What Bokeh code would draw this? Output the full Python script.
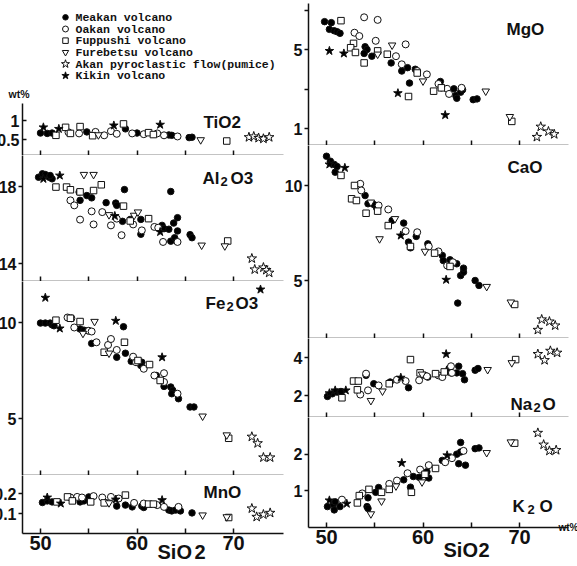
from bokeh.core.properties import value
from bokeh.embed import file_html
from bokeh.layouts import column, row
from bokeh.models import ColumnDataSource, FactorRange, FixedTicker, Label, LinearAxis, Range1d, Title
from bokeh.plotting import figure
from bokeh.resources import INLINE

# ---------------------------------------------------------------- series
SERIES = ["meakan", "oakan", "fuppushi", "furebetsu", "akan", "kikin"]
SERIES_NAMES = [
    "Meakan volcano",
    "Oakan volcano",
    "Fuppushi volcano",
    "Furebetsu volcano",
    "Akan pyroclastic flow(pumice)",
    "Kikin volcano",
]

# ---------------------------------------------------------------- data: (SiO2 wt%, oxide wt%)
TIO2_MEAKAN = [(50.0, 0.67), (50.7, 0.66), (51.2, 0.67), (54.8, 0.70), (58.8, 0.78), (60.0, 0.67),
               (63.3, 0.62), (63.6, 0.61), (65.4, 0.55), (65.7, 0.56)]
TIO2_OAKAN = [(52.9, 0.69), (54.0, 0.66), (55.7, 0.70), (56.6, 0.61), (57.3, 0.72), (57.9, 0.65),
              (59.5, 0.66), (60.7, 0.64), (62.1, 0.66), (62.8, 0.61), (64.2, 0.58)]
TIO2_FUPPUSHI = [(51.6, 0.61), (52.6, 0.82), (53.1, 0.66), (54.1, 0.84), (55.4, 0.60), (58.6, 0.91),
                 (61.2, 0.68), (61.7, 0.63), (69.3, 0.46)]
TIO2_FUREBETSU = [(56.0, 0.62), (66.6, 0.49)]
TIO2_AKAN = [(71.6, 0.56), (72.1, 0.58), (72.6, 0.54), (73.1, 0.52), (73.7, 0.56)]
TIO2_KIKIN = [(50.3, 0.82), (51.9, 0.78), (57.6, 0.87), (62.4, 0.89)]

AL2O3_MEAKAN = [(49.8, 18.48), (50.2, 18.66), (50.5, 18.62), (50.9, 18.48), (51.2, 18.40), (51.0, 18.57),
                (54.0, 17.71), (54.1, 17.28), (54.8, 17.53), (55.3, 17.41), (56.8, 17.16), (57.8, 17.14),
                (57.9, 17.02), (58.7, 17.84), (58.5, 16.19), (59.3, 16.29), (60.4, 16.29), (60.4, 15.52),
                (62.6, 15.98), (62.8, 15.81), (63.3, 15.78), (63.5, 17.74), (63.5, 15.16), (63.8, 16.10),
                (63.9, 15.34), (64.2, 16.38), (64.2, 15.69), (65.5, 15.50), (65.7, 15.34)]
AL2O3_OAKAN = [(53.1, 17.28), (53.5, 17.02), (54.1, 16.28), (55.3, 16.71), (55.5, 16.03), (56.4, 16.67),
               (57.3, 15.98), (57.9, 16.33), (58.4, 15.47), (59.6, 16.03), (60.5, 15.72), (61.8, 15.90),
               (62.2, 15.86), (62.7, 15.12), (64.2, 15.12)]
AL2O3_FUPPUSHI = [(51.6, 17.97), (52.7, 17.97), (53.1, 17.83), (54.1, 17.72), (55.5, 17.79), (56.3, 18.09),
                  (58.6, 16.98), (59.3, 16.21), (61.2, 16.33), (69.4, 15.17)]
AL2O3_FUREBETSU = [(54.5, 18.62), (55.5, 18.62), (57.1, 16.53), (59.7, 16.50), (60.1, 16.67), (66.7, 14.95),
                   (69.1, 14.91)]
AL2O3_AKAN = [(71.9, 14.26), (72.2, 13.69), (73.1, 13.79), (73.4, 13.66), (73.7, 13.52)]
AL2O3_KIKIN = [(50.3, 18.40), (52.0, 18.57), (57.7, 16.47), (62.4, 15.64)]

FE2O3_MEAKAN = [(50.0, 9.97), (50.5, 9.97), (51.0, 9.97), (51.2, 9.88), (51.4, 9.83), (54.1, 9.66),
                (54.5, 9.60), (54.9, 9.57), (55.3, 8.91), (57.9, 8.19), (58.8, 8.40), (58.6, 9.78),
                (59.4, 7.98), (60.5, 7.93), (60.4, 7.76), (62.0, 7.24), (62.8, 6.67), (63.5, 6.64),
                (63.7, 6.47), (63.6, 6.29), (64.3, 6.03), (65.5, 5.60), (65.9, 5.60)]
FE2O3_OAKAN = [(52.8, 10.26), (53.2, 10.22), (53.5, 9.74), (55.0, 9.57), (55.3, 9.53), (55.8, 8.97),
               (57.0, 8.83), (57.3, 9.14), (57.9, 8.57), (59.6, 8.22), (59.9, 7.93), (60.7, 7.59),
               (61.8, 7.24), (62.8, 7.36), (62.8, 6.90), (64.2, 6.29)]
FE2O3_FUPPUSHI = [(51.6, 10.12), (53.1, 10.22), (54.1, 10.05), (56.6, 8.45), (58.7, 8.97), (60.1, 8.02),
                  (61.3, 7.81), (62.4, 6.98), (69.5, 3.97)]
FE2O3_FUREBETSU = [(55.6, 10.05), (54.4, 9.43), (57.1, 8.40), (66.8, 5.12), (69.3, 4.14)]
FE2O3_AKAN = [(71.9, 4.05), (72.5, 3.71), (73.1, 2.97), (73.8, 2.97)]
FE2O3_KIKIN = [(50.5, 11.29), (52.0, 9.69), (57.8, 10.09), (62.6, 8.19), (72.8, 11.72)]

MNO_MEAKAN = [(50.2, 0.155), (50.7, 0.163), (51.2, 0.158), (54.1, 0.158), (54.5, 0.163), (55.0, 0.183),
              (57.9, 0.137), (58.8, 0.142), (59.5, 0.133), (60.5, 0.137), (60.7, 0.130), (63.3, 0.117),
              (63.6, 0.113), (64.0, 0.117), (64.5, 0.113), (65.7, 0.103)]
MNO_OAKAN = [(53.1, 0.180), (53.8, 0.183), (54.3, 0.180), (55.5, 0.187), (56.4, 0.180), (57.3, 0.183),
             (58.1, 0.175), (59.7, 0.153), (60.7, 0.150), (62.1, 0.142), (62.8, 0.133), (64.3, 0.133)]
MNO_FUPPUSHI = [(51.7, 0.158), (52.8, 0.183), (53.3, 0.163), (55.2, 0.158), (56.6, 0.153), (58.8, 0.192),
                (61.2, 0.147), (61.7, 0.147), (69.5, 0.080)]
MNO_FUREBETSU = [(57.1, 0.153), (66.8, 0.092), (69.3, 0.083)]
MNO_AKAN = [(71.9, 0.125), (72.4, 0.083), (73.1, 0.095), (73.8, 0.103)]
MNO_KIKIN = [(50.7, 0.180), (52.1, 0.150), (57.8, 0.170), (62.6, 0.167)]

MGO_MEAKAN = [(49.8, 6.41), (50.5, 6.36), (50.3, 6.02), (50.8, 5.95), (51.1, 5.90), (51.4, 5.82),
              (54.0, 5.14), (54.2, 5.00), (53.9, 4.80), (54.7, 4.66), (56.7, 4.32), (57.8, 3.91),
              (58.4, 4.08), (58.6, 3.30), (59.2, 4.00), (61.8, 3.38), (61.9, 3.06), (63.2, 3.01),
              (63.4, 2.67), (63.5, 2.53), (63.9, 2.84), (64.1, 2.96), (65.2, 2.46), (65.6, 2.50)]
MGO_OAKAN = [(53.9, 6.63), (55.3, 6.50), (52.9, 5.85), (53.4, 5.68), (55.1, 5.44), (57.2, 4.66),
             (58.2, 5.26), (57.8, 4.25), (59.4, 3.91), (60.4, 3.74), (61.6, 3.26), (62.5, 3.01),
             (62.7, 2.75), (64.0, 3.06)]
MGO_FUPPUSHI = [(51.5, 6.46), (52.8, 5.31), (52.5, 5.09), (53.0, 4.85), (53.9, 4.32), (55.3, 4.93),
                (56.3, 4.76), (59.4, 3.81), (61.1, 2.89), (61.9, 3.06), (58.5, 2.62), (69.2, 1.36)]
MGO_FUREBETSU = [(56.8, 5.22), (55.3, 4.76), (60.0, 3.40), (66.5, 2.89), (69.0, 1.60)]
MGO_AKAN = [(71.8, 0.57), (72.2, 1.09), (73.0, 0.85), (73.6, 0.71)]
MGO_KIKIN = [(50.3, 4.93), (51.8, 4.80), (57.4, 2.79), (62.3, 1.68)]

CAO_MEAKAN = [(50.0, 11.54), (50.4, 11.28), (50.8, 11.11), (51.1, 11.00), (50.9, 10.70), (54.0, 9.47),
              (54.3, 9.04), (54.9, 9.00), (55.2, 8.82), (56.8, 8.16), (58.0, 8.02), (58.5, 7.02),
              (58.7, 6.72), (59.3, 7.32), (60.5, 6.93), (62.0, 6.32), (62.1, 6.05), (62.8, 6.09),
              (63.5, 5.88), (63.6, 3.81), (63.9, 5.26), (64.2, 5.44), (64.2, 5.65), (65.4, 5.00),
              (65.8, 4.74)]
CAO_OAKAN = [(53.5, 10.09), (53.6, 9.74), (55.4, 8.95), (56.4, 8.74), (58.2, 7.60), (59.4, 7.54),
             (60.6, 6.79), (61.6, 6.53), (62.5, 5.79), (63.1, 5.96)]
CAO_FUPPUSHI = [(51.5, 10.53), (52.9, 10.00), (52.6, 9.30), (53.1, 9.21), (54.1, 8.54), (55.3, 8.65),
                (56.4, 7.89), (58.7, 6.79), (61.2, 6.44), (62.8, 5.74), (69.5, 3.74)]
CAO_FUREBETSU = [(54.6, 9.12), (55.5, 7.19), (57.1, 8.25), (60.2, 6.53), (66.6, 4.68), (69.1, 3.86)]
CAO_AKAN = [(71.9, 2.40), (72.3, 2.95), (73.1, 2.84), (73.7, 2.63)]
CAO_KIKIN = [(50.3, 11.11), (51.9, 10.93), (57.7, 7.37), (62.4, 5.04)]

NA2O_MEAKAN = [(50.1, 1.95), (50.6, 2.09), (51.1, 2.18), (51.5, 2.21), (54.1, 3.06), (54.9, 2.62),
               (56.6, 2.71), (58.5, 2.41), (60.2, 3.06), (60.5, 2.97), (62.7, 3.42), (62.9, 3.19),
               (63.5, 3.19), (63.7, 3.54), (64.1, 3.15), (64.3, 2.83), (65.4, 3.33), (65.7, 3.42)]
NA2O_OAKAN = [(53.5, 2.05), (54.1, 3.15), (54.3, 2.27), (55.4, 2.53), (57.3, 2.83), (58.2, 2.76),
              (59.6, 2.80), (60.4, 3.01), (61.6, 3.06), (62.0, 2.97), (62.9, 3.54), (63.0, 3.19)]
NA2O_FUPPUSHI = [(51.6, 1.88), (52.8, 2.76), (53.3, 2.76), (53.2, 2.30), (56.5, 2.62), (58.7, 3.89),
                 (59.7, 3.19), (61.3, 3.15), (62.2, 3.24), (69.6, 3.89)]
NA2O_FUREBETSU = [(54.6, 1.73), (55.8, 2.23), (59.9, 3.12), (66.7, 3.36), (69.2, 3.72)]
NA2O_AKAN = [(71.9, 4.18), (72.6, 3.86), (73.2, 4.35), (73.9, 4.25)]
NA2O_KIKIN = [(50.3, 2.12), (50.9, 2.27), (52.0, 2.27), (57.7, 2.94), (62.4, 4.18)]

K2O_MEAKAN = [(50.1, 0.57), (50.7, 0.63), (50.8, 0.48), (50.9, 0.70), (51.4, 0.57), (54.3, 0.81),
              (54.2, 0.57), (54.3, 0.52), (55.4, 1.09), (55.1, 0.96), (58.0, 1.30), (58.7, 1.10),
              (59.0, 1.39), (59.6, 1.37), (60.4, 1.52), (60.6, 1.35), (62.0, 1.83), (63.5, 2.00),
              (63.9, 2.06), (63.9, 2.32), (63.7, 1.74), (64.4, 1.70), (65.4, 2.15), (65.8, 2.17)]
K2O_OAKAN = [(51.6, 0.76), (53.7, 0.93), (56.5, 1.19), (57.3, 1.28), (58.4, 1.48), (59.7, 1.58),
             (60.6, 1.70), (62.3, 1.78), (63.0, 1.89), (64.2, 2.09)]
K2O_FUPPUSHI = [(53.2, 0.67), (53.4, 0.87), (54.4, 1.04), (55.7, 0.96), (56.5, 1.04), (58.8, 0.96),
                (60.2, 1.45), (61.3, 1.61), (69.5, 2.30)]
K2O_FUREBETSU = [(54.6, 0.37), (55.7, 0.72), (57.2, 1.13), (59.9, 1.24), (66.6, 2.04), (69.1, 2.33)]
K2O_AKAN = [(71.9, 2.58), (72.5, 2.26), (73.1, 2.09), (73.8, 2.11)]
K2O_KIKIN = [(50.3, 0.74), (52.1, 0.65), (57.8, 1.76), (62.5, 1.97)]

TIO2 = dict(meakan=TIO2_MEAKAN, oakan=TIO2_OAKAN, fuppushi=TIO2_FUPPUSHI,
            furebetsu=TIO2_FUREBETSU, akan=TIO2_AKAN, kikin=TIO2_KIKIN)
AL2O3 = dict(meakan=AL2O3_MEAKAN, oakan=AL2O3_OAKAN, fuppushi=AL2O3_FUPPUSHI,
             furebetsu=AL2O3_FUREBETSU, akan=AL2O3_AKAN, kikin=AL2O3_KIKIN)
FE2O3 = dict(meakan=FE2O3_MEAKAN, oakan=FE2O3_OAKAN, fuppushi=FE2O3_FUPPUSHI,
             furebetsu=FE2O3_FUREBETSU, akan=FE2O3_AKAN, kikin=FE2O3_KIKIN)
MNO = dict(meakan=MNO_MEAKAN, oakan=MNO_OAKAN, fuppushi=MNO_FUPPUSHI,
           furebetsu=MNO_FUREBETSU, akan=MNO_AKAN, kikin=MNO_KIKIN)
MGO = dict(meakan=MGO_MEAKAN, oakan=MGO_OAKAN, fuppushi=MGO_FUPPUSHI,
           furebetsu=MGO_FUREBETSU, akan=MGO_AKAN, kikin=MGO_KIKIN)
CAO = dict(meakan=CAO_MEAKAN, oakan=CAO_OAKAN, fuppushi=CAO_FUPPUSHI,
           furebetsu=CAO_FUREBETSU, akan=CAO_AKAN, kikin=CAO_KIKIN)
NA2O = dict(meakan=NA2O_MEAKAN, oakan=NA2O_OAKAN, fuppushi=NA2O_FUPPUSHI,
            furebetsu=NA2O_FUREBETSU, akan=NA2O_AKAN, kikin=NA2O_KIKIN)
K2O = dict(meakan=K2O_MEAKAN, oakan=K2O_OAKAN, fuppushi=K2O_FUPPUSHI,
           furebetsu=K2O_FUREBETSU, akan=K2O_AKAN, kikin=K2O_KIKIN)

# ---------------------------------------------------------------- styling
STYLE = {
    "meakan": dict(marker="circle", fill="black", size=6.5),
    "oakan": dict(marker="circle", fill="white", size=7.0),
    "fuppushi": dict(marker="square", fill="white", size=6.5),
    "furebetsu": dict(marker="inverted_triangle", fill="white", size=7.5),
    "akan": dict(marker="star", fill="white", size=10.0),
    "kikin": dict(marker="star", fill="black", size=9.0),
}
FONT = "Liberation Sans"
INK = "#111111"
NAME_PX = 17   # oxide names
SUB_PX = 13    # their subscripts

# column geometry in page pixels: origin is where the column's canvas starts
# (the columns are nudged left so the tick labels run off the sheet edge)
LEFT = dict(width=297, origin=-12, frame_left=22, frame_right=283, si_at=(50, 40, 70, 233))
RIGHT = dict(width=301, origin=276, frame_left=308, frame_right=568, si_at=(50, 326, 70, 519))


def borders(col):
    left_b = col["frame_left"] - col["origin"]
    right_b = col["width"] - left_b - (col["frame_right"] - col["frame_left"])
    return left_b, right_b


def lin_range(va, pa, vb, pb, lo_px, hi_px, flip=False):
    """Range whose ends sit at pixel lo_px/hi_px given two calibration points."""
    k = (vb - va) / (pb - pa)
    a = va + (lo_px - pa) * k
    b = va + (hi_px - pa) * k
    return Range1d(b, a) if flip else Range1d(a, b)


def add_text(p, frame_left, frame_bottom, parts):
    for txt, px, py, size in parts:
        p.add_layout(Label(x=px - frame_left, y=frame_bottom - py, x_units="screen", y_units="screen",
                           text=txt, text_font=FONT, text_font_style="bold", text_font_size=f"{size}px",
                           text_color=INK, text_baseline="alphabetic", text_align="left"))


def caption(text, offset, standoff, size, align="left", valign="top"):
    return Title(text=text, align=align, offset=offset, standoff=standoff, vertical_align=valign,
                 text_font=FONT, text_font_style="bold", text_font_size=f"{size}px", text_color=INK)


def formula(*pieces):
    """(text, x, baseline) pieces; digits given as subscripts use the smaller size."""
    out = []
    for txt, x, y, sub in pieces:
        out.append((txt, x, y, SUB_PX if sub else NAME_PX))
    return out


def make_panel(col, top, bottom, ycal, yticks, yminor, ylabels, data, title,
               border_top=0, border_bottom=0, xlabels=False, ytick_in=False):
    left_b, right_b = borders(col)
    s0, p0, s1, p1 = col["si_at"]
    xr = lin_range(s0, p0, s1, p1, col["frame_left"], col["frame_right"])
    va, pa, vb, pb = ycal
    yr = lin_range(va, pa, vb, pb, top, bottom, flip=True)
    p = figure(width=col["width"], height=(bottom - top) + border_top + border_bottom,
               x_range=xr, y_range=yr, output_backend="svg", toolbar_location=None,
               x_axis_location=None, y_axis_location=None,
               min_border_left=left_b, min_border_right=right_b,
               min_border_top=border_top, min_border_bottom=border_bottom,
               border_fill_color=None, background_fill_color=None, outline_line_color=None)
    p.xgrid.visible = False
    p.ygrid.visible = False

    if xlabels:
        xt = FixedTicker(ticks=[50, 60, 70], minor_ticks=[55, 65])
    else:
        xt = FixedTicker(ticks=[], minor_ticks=[50, 55, 60, 65, 70])
    xa = LinearAxis(ticker=xt, major_tick_in=5, major_tick_out=0, minor_tick_in=5, minor_tick_out=0,
                    axis_line_width=1.5, axis_line_color=INK, major_tick_line_width=1.5,
                    minor_tick_line_width=1.5, major_tick_line_color=INK, minor_tick_line_color=INK,
                    major_label_standoff=2, major_label_text_font=FONT, major_label_text_font_style="bold",
                    major_label_text_font_size="20px", major_label_text_color=INK)
    p.add_layout(xa, "below")

    t_in, t_out = (4, 0) if ytick_in else (0, 4)
    ya = LinearAxis(ticker=FixedTicker(ticks=yticks, minor_ticks=yminor),
                    major_tick_in=t_in, major_tick_out=t_out, minor_tick_in=t_in, minor_tick_out=t_out,
                    axis_line_width=1.5, axis_line_color=INK, major_tick_line_width=1.5,
                    minor_tick_line_width=1.5, major_tick_line_color=INK, minor_tick_line_color=INK,
                    major_label_overrides=dict(zip(yticks, ylabels)), major_label_standoff=3 if ytick_in else 2,
                    major_label_text_font=FONT, major_label_text_font_style="bold",
                    major_label_text_font_size="16px", major_label_text_color=INK)
    p.add_layout(ya, "left")

    for s in SERIES:
        st = STYLE[s]
        pts = data[s]
        p.scatter([a for a, _ in pts], [b for _, b in pts], marker=st["marker"], size=st["size"],
                  fill_color=st["fill"], line_color=INK, line_width=1)

    add_text(p, col["frame_left"], bottom, title)
    return p, xa


# ---------------------------------------------------------------- left column
lb, rb = borders(LEFT)
key_w = LEFT["frame_right"] - LEFT["frame_left"]
key_x0 = 65 - LEFT["frame_left"]   # marker column sits 43 px inside the frame
legend_fig = figure(width=LEFT["width"], height=103, x_range=Range1d(-key_x0, key_w - key_x0),
                    y_range=FactorRange(factors=list(reversed(SERIES_NAMES))),
                    output_backend="svg", toolbar_location=None,
                    x_axis_location=None, y_axis_location=None,
                    min_border_left=lb, min_border_right=rb, min_border_top=11, min_border_bottom=22,
                    border_fill_color=None, background_fill_color=None, outline_line_color=None)
legend_fig.xgrid.visible = False
legend_fig.ygrid.visible = False
key_src = ColumnDataSource(dict(
    x=[0] * len(SERIES_NAMES),
    name=SERIES_NAMES,
    marker=[STYLE[s]["marker"] for s in SERIES],
    fill=[STYLE[s]["fill"] for s in SERIES],
    size=[STYLE[s]["size"] * 0.85 for s in SERIES],
))
legend_fig.scatter(x="x", y="name", marker="marker", fill_color="fill", size="size",
                   line_color=INK, line_width=1, source=key_src)
legend_fig.text(x="x", y="name", text="name", x_offset=10, source=key_src, text_baseline="middle",
                text_font=value("Liberation Mono"), text_font_size="11.5px", text_color=INK,
                text_font_style="bold")
legend_fig.add_layout(caption("wt%", offset=8 - LEFT["frame_left"], standoff=8, size=10.5, valign="bottom"),
                      "below")

p_tio2, _ = make_panel(LEFT, 103, 155, (1, 120, 0.5, 139), [0.5, 1], [], ["0.5", "1"], TIO2,
                       formula(("TiO2", 203, 122, False)), ytick_in=True)
p_al, _ = make_panel(LEFT, 155, 281, (18, 186, 14, 263), [14, 18], [], ["14", "18"], AL2O3,
                     formula(("Al", 202, 178, False), ("2", 220, 180.5, True), ("O3", 230, 178, False)))
p_fe, _ = make_panel(LEFT, 281, 475, (10, 322, 5, 418), [5, 10], [], ["5", "10"], FE2O3,
                     formula(("Fe", 205, 303, False), ("2", 226, 305.5, True), ("O3", 235, 303, False)))
p_mn, _ = make_panel(LEFT, 475, 533, (0.2, 493, 0.1, 513), [0.1, 0.2], [], ["0.1", "0.2"], MNO,
                     formula(("MnO", 203, 492, False)), border_bottom=33, xlabels=True)
# SiO2 caption: the "2" sits a little lower than "SiO"
p_mn.add_layout(caption("SiO", offset=157 - LEFT["frame_left"], standoff=-24, size=20), "below")
p_mn.add_layout(caption("2", offset=194 - LEFT["frame_left"], standoff=-16, size=20), "below")

# ---------------------------------------------------------------- right column
p_mg, _ = make_panel(RIGHT, 3, 145, (5, 49, 1, 128), [1, 5], [3, 7], ["1", "5"], MGO,
                     formula(("MgO", 506, 29, False)), border_top=3)
p_ca, _ = make_panel(RIGHT, 145, 338, (10, 185, 5, 280), [5, 10], [], ["5", "10"], CAO,
                     formula(("CaO", 507, 167, False)))
p_na, _ = make_panel(RIGHT, 338, 417, (4, 357, 2, 395), [2, 4], [], ["2", "4"], NA2O,
                     formula(("Na", 510, 404, False), ("2", 533, 406.5, True), ("O", 542, 404, False)))
p_k, k_axis = make_panel(RIGHT, 417, 531, (2, 455, 1, 493), [1, 2], [], ["1", "2"], K2O,
                         formula(("K", 512, 510, False), ("2", 527, 512.5, True), ("O", 539, 510, False)),
                         border_bottom=35, xlabels=True)
k_axis.axis_label = "wt%"
k_axis.axis_label_align = "end"
k_axis.axis_label_standoff = -25
k_axis.axis_label_text_font = FONT
k_axis.axis_label_text_font_style = "bold"
k_axis.axis_label_text_font_size = "10px"
k_axis.axis_label_text_color = INK
p_k.add_layout(caption("SiO", offset=443 - RIGHT["frame_left"], standoff=7, size=20), "below")
p_k.add_layout(caption("2", offset=478 - RIGHT["frame_left"], standoff=-47, size=20), "below")

left_col = column(legend_fig, p_tio2, p_al, p_fe, p_mn, margin=(0, 0, 0, LEFT["origin"]))
right_col = column(p_mg, p_ca, p_na, p_k, margin=(0, 0, 0, RIGHT["origin"] - (LEFT["origin"] + LEFT["width"])))
layout = row(left_col, right_col)

open("out.html", "w").write(file_html(layout, INLINE))
